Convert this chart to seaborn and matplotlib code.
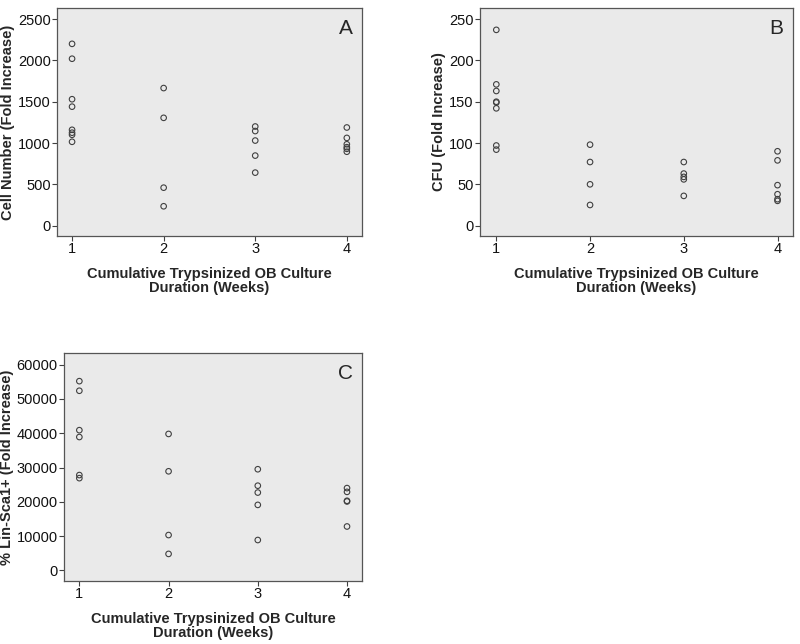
import matplotlib
matplotlib.use("Agg")
import matplotlib.pyplot as plt
import seaborn as sns
import pandas as pd

sns.set_style("white")
plt.rcParams['font.family'] = ['Liberation Sans', 'DejaVu Sans']

# Cumulative culture duration (weeks) for each observation
weeks_a = [1, 1, 1, 1, 1, 1, 1, 1,
           2, 2, 2, 2,
           3, 3, 3, 3, 3,
           4, 4, 4, 4, 4, 4]
cell_number = [2200, 2020, 1530, 1440, 1160, 1125, 1100, 1015,
               1665, 1305, 460, 235,
               1200, 1145, 1030, 848, 642,
               1188, 1062, 985, 950, 930, 895]

weeks_b = [1, 1, 1, 1, 1, 1, 1, 1,
           2, 2, 2, 2,
           3, 3, 3, 3, 3,
           4, 4, 4, 4, 4, 4]
cfu = [237, 171, 163, 150, 149, 142, 97, 92,
       98, 77, 50, 25,
       77, 63, 59, 56, 36,
       90, 79, 49, 38, 32, 30]

weeks_c = [1, 1, 1, 1, 1, 1,
           2, 2, 2, 2,
           3, 3, 3, 3, 3,
           4, 4, 4, 4, 4]
lin_sca1 = [55200, 52400, 40900, 38900, 27800, 26900,
            39800, 28900, 10300, 4800,
            29500, 24700, 22700, 19100, 8850,
            24000, 22900, 20300, 20100, 12800]

x_ticks = [1, 2, 3, 4]
x_label = "Cumulative Trypsinized OB Culture\nDuration (Weeks)"

panels = [
    dict(rect=[0.0713, 0.6335, 0.381, 0.354], x=weeks_a, y=cell_number,
         ylabel="Cell Number (Fold Increase)", letter="A",
         yticks=[0, 500, 1000, 1500, 2000, 2500], ylim=(-125, 2633), xlim=(0.836, 4.164)),
    dict(rect=[0.600, 0.6335, 0.391, 0.354], x=weeks_b, y=cfu,
         ylabel="CFU (Fold Increase)", letter="B",
         yticks=[0, 50, 100, 150, 200, 250], ylim=(-12.6, 263.4), xlim=(0.826, 4.163)),
    dict(rect=[0.080, 0.0978, 0.3725, 0.354], x=weeks_c, y=lin_sca1,
         ylabel="% Lin-Sca1+ (Fold Increase)", letter="C",
         yticks=[0, 10000, 20000, 30000, 40000, 50000, 60000], ylim=(-3112, 63403), xlim=(0.828, 4.168)),
]

fig = plt.figure(figsize=(8, 6.44), dpi=100)

for p in panels:
    ax = fig.add_axes(p['rect'])
    df = pd.DataFrame({'week': p['x'], 'value': p['y']})
    sns.scatterplot(data=df, x='week', y='value', ax=ax, marker='o', s=16,
                    facecolor='none', edgecolor='#404040', linewidth=0.8)
    ax.set_facecolor('#EAEAEA')
    ax.set_xlim(*p['xlim'])
    ax.set_ylim(*p['ylim'])
    ax.set_xticks(x_ticks)
    ax.set_yticks(p['yticks'])
    ax.tick_params(axis='both', bottom=True, left=True, direction='out', length=3.5,
                   width=0.8, color='#404040', labelsize=10.5, labelcolor='#111111', pad=1)
    for s in ax.spines.values():
        s.set_color('#555555')
        s.set_linewidth(0.9)
    ax.set_xlabel(x_label, fontsize=10.5, fontweight='bold', labelpad=8, linespacing=1.0)
    ax.set_ylabel(p['ylabel'], fontsize=10.5, fontweight='bold', labelpad=2)
    ax.text(0.97, 0.95, p['letter'], transform=ax.transAxes, ha='right', va='top', fontsize=15)

fig.savefig("out.png", dpi=100)
